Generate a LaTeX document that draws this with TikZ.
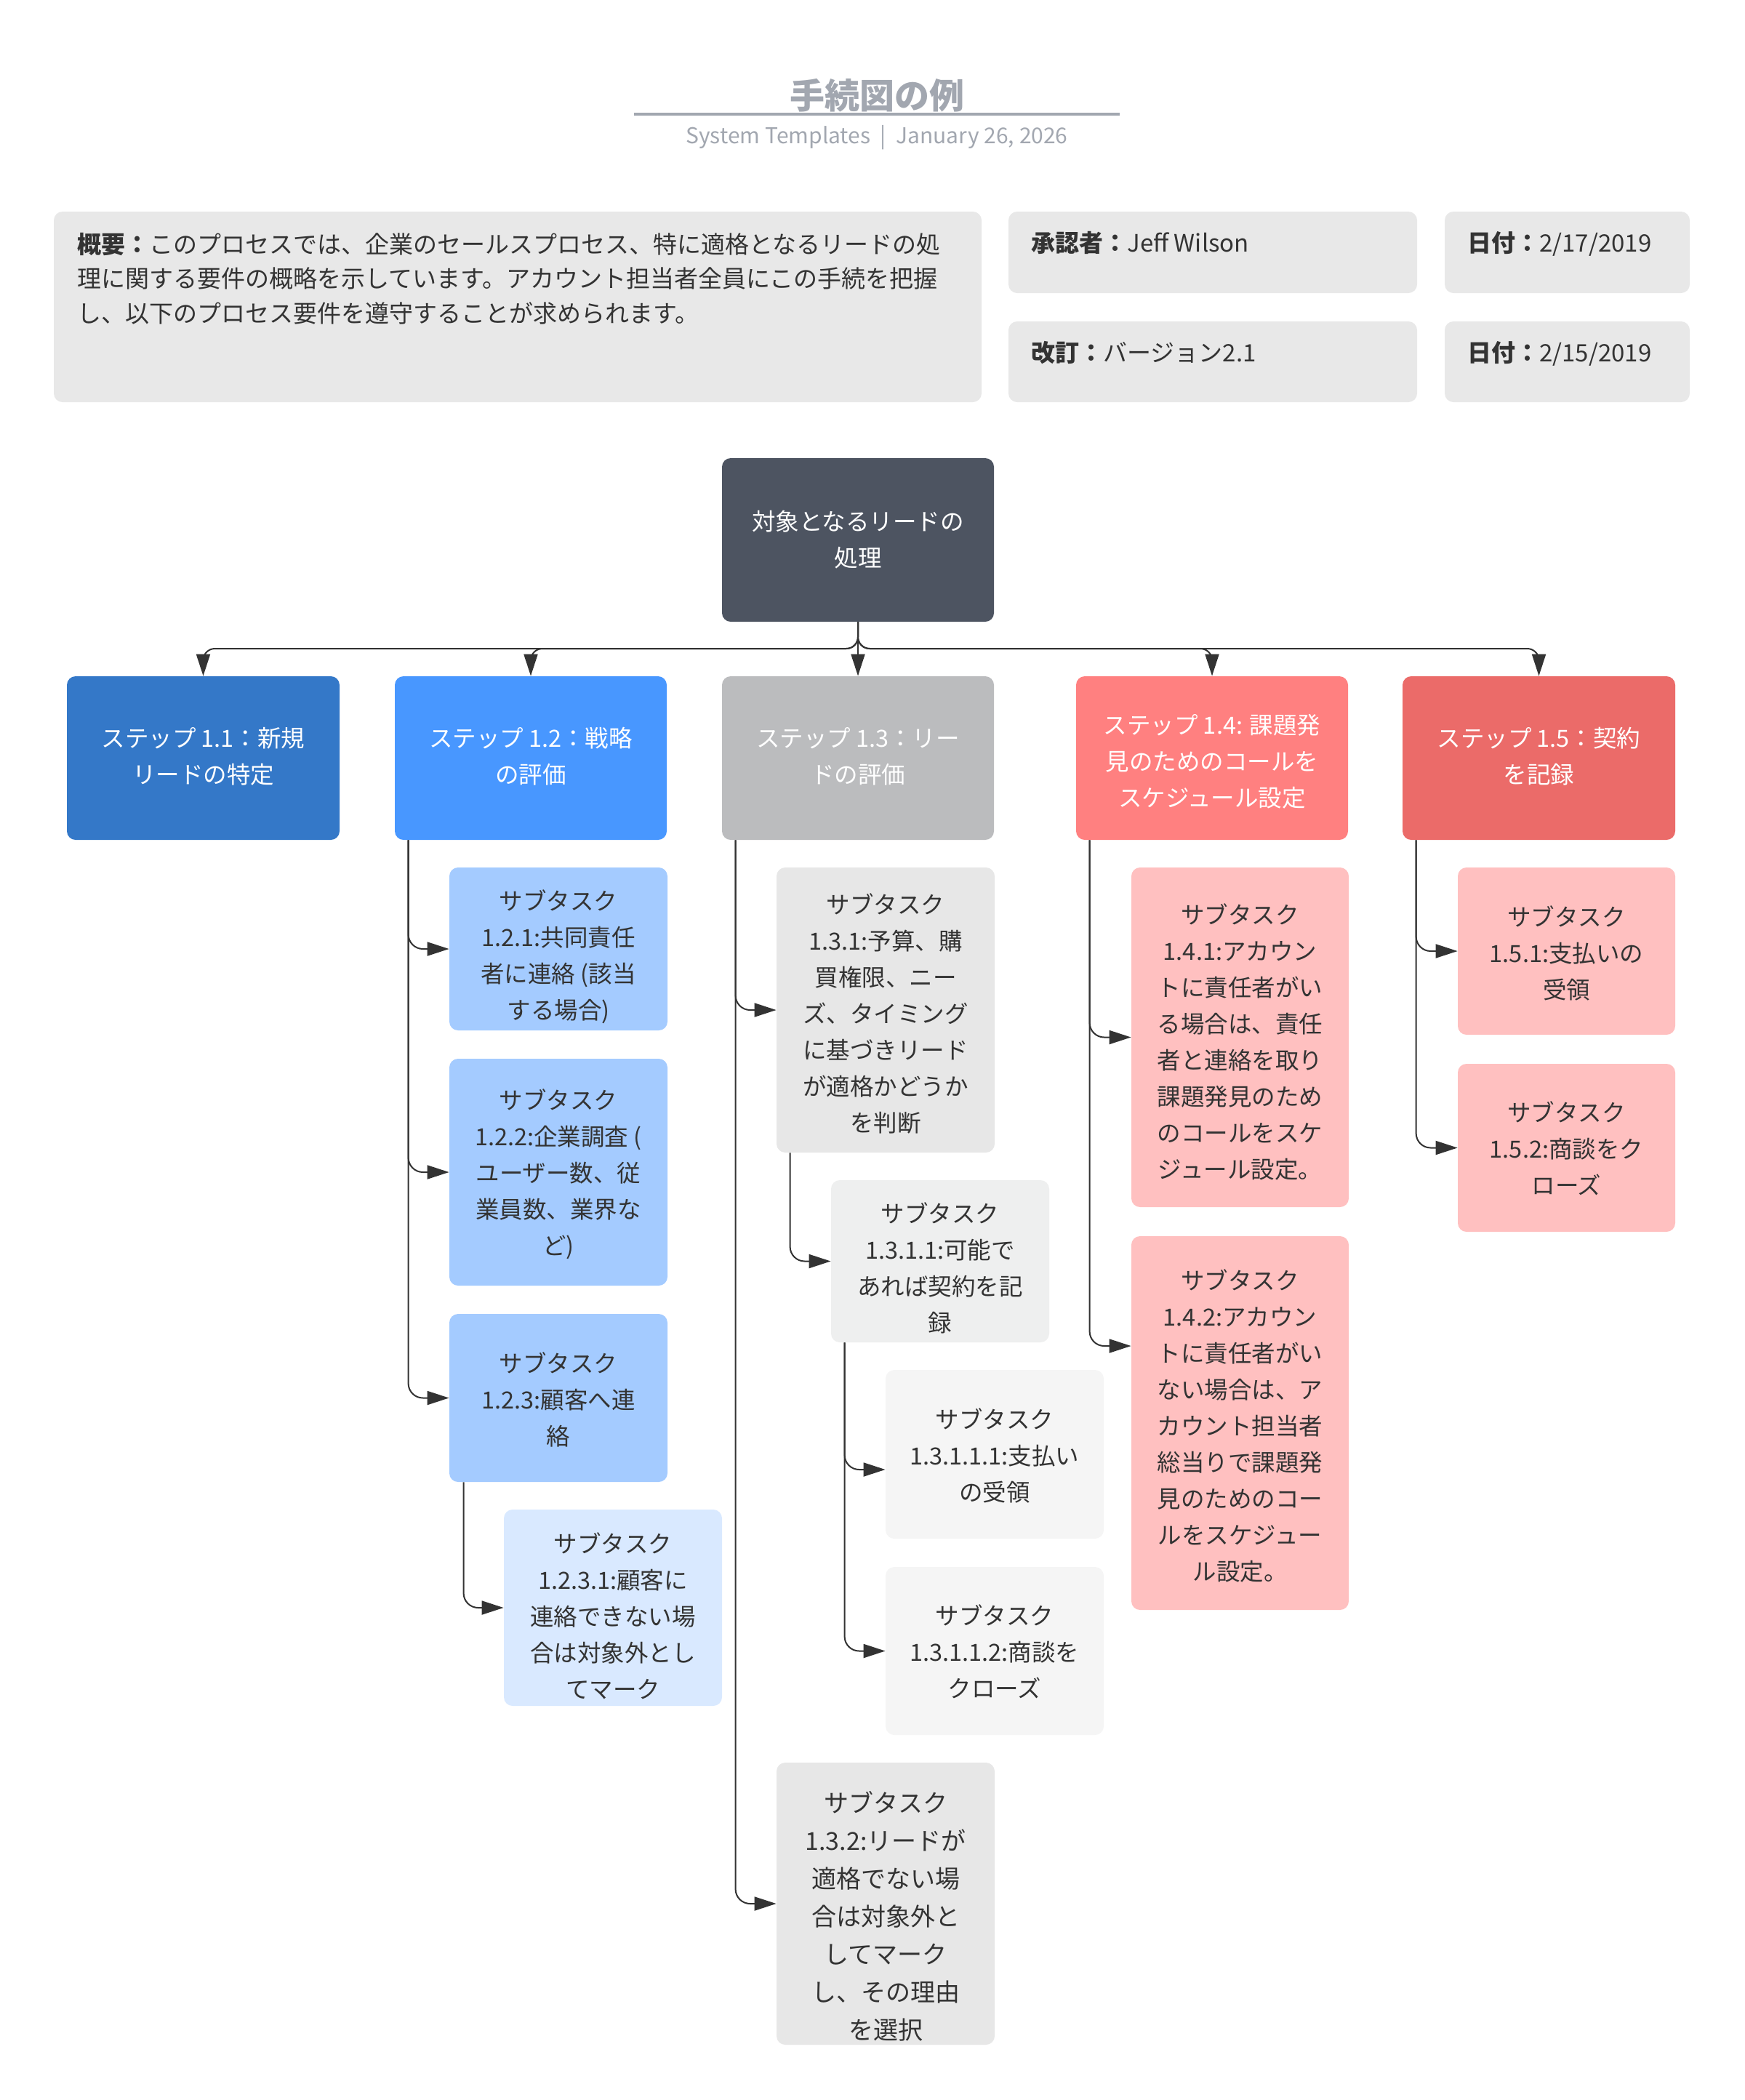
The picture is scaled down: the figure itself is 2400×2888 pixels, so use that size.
\documentclass[tikz,border=0pt]{standalone}
\usepackage{fontspec}
\setmainfont{Noto Sans CJK JP}
\usetikzlibrary{arrows.meta,calc}
\definecolor{rootc}{HTML}{4D5461}
\definecolor{sAc}{HTML}{3478C8}
\definecolor{sBc}{HTML}{4897FF}
\definecolor{sCc}{HTML}{BBBCBE}
\definecolor{sDc}{HTML}{FF8080}
\definecolor{sEc}{HTML}{EB6B69}
\definecolor{lbluec}{HTML}{A4CBFF}
\definecolor{vlbluec}{HTML}{D9E9FF}
\definecolor{lgrayc}{HTML}{E7E7E7}
\definecolor{mgrayc}{HTML}{EEEFEF}
\definecolor{vlgrayc}{HTML}{F5F5F5}
\definecolor{pinkc}{HTML}{FFC0C0}
\definecolor{infoc}{HTML}{E8E8E8}
\definecolor{txtc}{HTML}{333333}
\definecolor{ttlc}{HTML}{A2A7B0}
\definecolor{linec}{HTML}{333333}
\newcommand{\myfont}{\fontsize{16.25pt}{25pt}\selectfont}
% name, style, left, top, right, bottom, text, text shift (px, downwards)
\newcommand{\pbox}[8]{%
  \node[#2, minimum width={(#5-#3)*0.5pt}, minimum height={(#6-#4)*0.5pt}] (#1) at ({(#3+#5)/2},{(#4+#6)/2}) {};
  \node[#2, fill=none] (#1-text) at ({(#3+#5)/2},{(#4+#6)/2+#8}) {#7};}
\begin{document}
\begin{tikzpicture}[x=0.5pt,y=-0.5pt,
  box/.style={rectangle, rounded corners=6pt, inner sep=0pt, align=center, font=\myfont, text=txtc},
  stepbox/.style={box, text=white},
  infobox/.style={rectangle, rounded corners=6pt, inner sep=0pt, fill=infoc},
  infotext/.style={inner sep=0pt, anchor=base west, align=left, font=\fontsize{16.5pt}{23.75pt}\selectfont, text=txtc},
  conn/.style={draw=linec, line width=1pt, -{Triangle[length=15pt,width=9.5pt]}, rounded corners=10pt},
  bus/.style={conn, rounded corners=8pt}]
\useasboundingbox[fill=white] (0,0) rectangle (2400,2888);

% title
\node[inner sep=0pt, font=\fontsize{24pt}{28pt}\selectfont\bfseries, text=ttlc] (title) at (1206,131) {手続図の例};
\coordinate (ulA) at (872,157);
\coordinate (ulB) at (1540,157);
\draw[ttlc, line width=2pt] (ulA) -- (ulB);
\node[inner sep=0pt, font=\fontsize{15pt}{18pt}\selectfont, text=ttlc] (subtitle) at (1206,189) {System Templates \ |\ \ January 26, 2026};

% info boxes
\node[infobox, minimum width=638pt, minimum height=131pt] (summary) at (712,422) {};
\node[infobox, minimum width=281pt, minimum height=56pt] (approver) at (1668,347) {};
\node[infobox, minimum width=168.5pt, minimum height=56pt] (dateA) at (2155.5,347) {};
\node[infobox, minimum width=281pt, minimum height=55.5pt] (revision) at (1668,497.5) {};
\node[infobox, minimum width=168.5pt, minimum height=55.5pt] (dateB) at (2155.5,497.5) {};
\node[infotext] (summarytext) at (106,443) {\textbf{概要：}このプロセスでは、企業のセールスプロセス、特に適格となるリードの処\\理に関する要件の概略を示しています。アカウント担当者全員にこの手続を把握\\し、以下のプロセス要件を遵守することが求められます。};
\node[infotext] (approvertext) at (1418,346) {\textbf{承認者：}Jeff Wilson};
\node[infotext] (dateAtext) at (2018,346) {\textbf{日付：}2/17/2019};
\node[infotext] (revisiontext) at (1418,497) {\textbf{改訂：}バージョン2.1};
\node[infotext] (dateBtext) at (2018,497) {\textbf{日付：}2/15/2019};

% root and steps
\pbox{root}{stepbox, fill=rootc}{993}{630}{1367}{855}{対象となるリードの\\処理}{0}
\pbox{sA}{stepbox, fill=sAc}{92}{930}{467}{1155}{ステップ 1.1：新規\\リードの特定}{-2}
\pbox{sB}{stepbox, fill=sBc}{543}{930}{917}{1155}{ステップ 1.2：戦略\\の評価}{-2}
\pbox{sC}{stepbox, fill=sCc}{993}{930}{1367}{1155}{ステップ 1.3：リー\\ドの評価}{-2}
\pbox{sD}{stepbox, fill=sDc}{1480}{930}{1854}{1155}{ステップ 1.4: 課題発\\見のためのコールを\\スケジュール設定}{5}
\pbox{sE}{stepbox, fill=sEc}{1929}{930}{2304}{1155}{ステップ 1.5：契約\\を記録}{-2}

% subtasks 1.2
\pbox{tBA}{box, fill=lbluec}{618}{1193}{918}{1417}{サブタスク\\1.2.1:共同責任\\者に連絡 (該当\\する場合)}{11}
\pbox{tBB}{box, fill=lbluec}{618}{1456}{918}{1768}{サブタスク\\1.2.2:企業調査 (\\ユーザー数、従\\業員数、業界な\\ど)}{3}
\pbox{tBC}{box, fill=lbluec}{618}{1807}{918}{2038}{サブタスク\\1.2.3:顧客へ連\\絡}{2}
\pbox{tBCA}{box, fill=vlbluec}{693}{2076}{993}{2346}{サブタスク\\1.2.3.1:顧客に\\連絡できない場\\合は対象外とし\\てマーク}{11}

% subtasks 1.3
\pbox{tCA}{box, fill=lgrayc}{1068}{1193}{1368}{1585}{サブタスク\\1.3.1:予算、購\\買権限、ニー\\ズ、タイミング\\に基づきリード\\が適格かどうか\\を判断}{5}
\pbox{tCAA}{box, fill=mgrayc}{1143}{1623}{1443}{1846}{サブタスク\\1.3.1.1:可能で\\あれば契約を記\\録}{9}
\pbox{tCAAA}{box, fill=vlgrayc}{1218}{1884}{1518}{2116}{サブタスク\\1.3.1.1.1:支払い\\の受領}{2}
\pbox{tCAAB}{box, fill=vlgrayc}{1218}{2155}{1518}{2386}{サブタスク\\1.3.1.1.2:商談を\\クローズ}{1}
\pbox{tCB}{box, fill=lgrayc, font=\fontsize{17pt}{26pt}\selectfont}{1068}{2424}{1368}{2812}{サブタスク\\1.3.2:リードが\\適格でない場\\合は対象外と\\してマーク\\し、その理由\\を選択}{17}

% subtasks 1.4
\pbox{tDA}{box, fill=pinkc}{1556}{1193}{1855}{1660}{サブタスク\\1.4.1:アカウン\\トに責任者がい\\る場合は、責任\\者と連絡を取り\\課題発見のため\\のコールをスケ\\ジュール設定。}{6}
\pbox{tDB}{box, fill=pinkc}{1556}{1700}{1855}{2214}{サブタスク\\1.4.2:アカウン\\トに責任者がい\\ない場合は、ア\\カウント担当者\\総当りで課題発\\見のためのコー\\ルをスケジュー\\ル設定。}{4}

% subtasks 1.5
\pbox{tEA}{box, fill=pinkc}{2005}{1193}{2304}{1423}{サブタスク\\1.5.1:支払いの\\受領}{3}
\pbox{tEB}{box, fill=pinkc}{2005}{1463}{2304}{1694}{サブタスク\\1.5.2:商談をク\\ローズ}{1}

% connectors root -> steps
\coordinate (busy) at (1180,892);
\draw[bus] (root.south) -- (root.south |- busy) -| (sA.north);
\draw[bus] (root.south) -- (root.south |- busy) -| (sB.north);
\draw[conn] (root.south) -- (sC.north);
\draw[bus] (root.south) -- (root.south |- busy) -| (sD.north);
\draw[bus] (root.south) -- (root.south |- busy) -| (sE.north);

% elbow connectors
\draw[conn] ([xshift=9.5pt]sB.south west) |- (tBA.west);
\draw[conn] ([xshift=9.5pt]sB.south west) |- (tBB.west);
\draw[conn] ([xshift=9.5pt]sB.south west) |- (tBC.west);
\draw[conn] ([xshift=10pt]tBC.south west) |- (tBCA.west);
\draw[conn] ([xshift=9.5pt]sC.south west) |- (tCA.west);
\draw[conn] ([xshift=9.5pt]tCA.south west) |- (tCAA.west);
\draw[conn] ([xshift=9.5pt]tCAA.south west) |- ([yshift=-10.5pt]tCAAA.west);
\draw[conn] ([xshift=9.5pt]tCAA.south west) |- (tCAAB.west);
\draw[conn] ([xshift=9.5pt]sC.south west) |- (tCB.west);
\draw[conn] ([xshift=9.5pt]sD.south west) |- (tDA.west);
\draw[conn] ([xshift=9.5pt]sD.south west) |- ([yshift=53pt]tDB.west);
\draw[conn] ([xshift=9.5pt]sE.south west) |- (tEA.west);
\draw[conn] ([xshift=9.5pt]sE.south west) |- (tEB.west);
\end{tikzpicture}
\end{document}
